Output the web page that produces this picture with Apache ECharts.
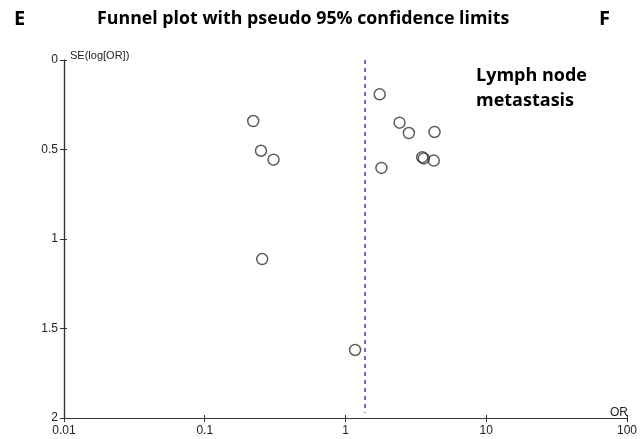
<!DOCTYPE html>
<html>
<head>
<meta charset="utf-8">
<script src="https://cdn.jsdelivr.net/npm/echarts@6/dist/echarts.min.js"></script>
<style>
  html, body { margin: 0; padding: 0; background: #fff; }
  #chart { width: 640px; height: 439px; }
</style>
</head>
<body>
<div id="chart"></div>
<script>
// Study odds ratios and standard errors of log(OR)
const studyOR = [1.75, 0.221, 0.251, 0.308, 2.42, 2.82, 4.29, 3.51, 3.60, 4.24, 1.80, 0.256, 1.17];
const studySE = [0.192, 0.341, 0.507, 0.557, 0.350, 0.408, 0.402, 0.543, 0.550, 0.562, 0.603, 1.112, 1.620];
// Pooled estimate (dashed reference line) and the SE range it spans
const pooledOR = 1.37;
const pooledSpan = [0, 1.97];
// Axis ticks
const orTicks = [0.01, 0.1, 1, 10, 100];
const seTicks = [0, 0.5, 1, 1.5, 2];

const points = studyOR.map((v, i) => [v, studySE[i]]);
const grid = { left: 64, right: 12, top: 60, bottom: 21 };
const axisColor = '#333';
const labelFont = { fontFamily: 'Liberation Sans', fontSize: 12, color: '#222' };

const xBase = {
  type: 'log', logBase: 10, min: orTicks[0], max: orTicks[orTicks.length - 1],
  position: 'bottom',
  splitLine: { show: false },
  axisLine: { onZero: false, lineStyle: { color: axisColor, width: 1.2 } }
};
const yBase = {
  type: 'value', inverse: true, min: seTicks[0], max: seTicks[seTicks.length - 1], interval: 0.5,
  position: 'left',
  splitLine: { show: false },
  axisLine: { show: true, onZero: false, lineStyle: { color: axisColor, width: 1.2 } }
};

const chart = echarts.init(document.getElementById('chart'), null, { renderer: 'canvas' });
chart.setOption({
  animation: false,
  backgroundColor: '#fff',
  grid: grid,
  title: [
    { text: 'E', left: 9, top: 4, textStyle: { fontFamily: 'Open Sans', fontWeight: 'bold', fontSize: 20, color: '#000' } },
    { text: 'Funnel plot with pseudo 95% confidence limits', left: 92, top: 5, textStyle: { fontFamily: 'Open Sans', fontWeight: 'bold', fontSize: 17.8, color: '#000' } },
    { text: 'F', left: 594, top: 4, textStyle: { fontFamily: 'Open Sans', fontWeight: 'bold', fontSize: 20, color: '#000' } },
    { text: 'Lymph node\nmetastasis', left: 471, top: 58, textStyle: { fontFamily: 'Open Sans', fontWeight: 'bold', fontSize: 18, lineHeight: 25, color: '#000' } },
    { text: 'SE(log[OR])', left: 65, top: 45, textStyle: { fontFamily: 'Liberation Sans', fontWeight: 'normal', fontSize: 11, color: '#222' } },
    { text: 'OR', left: 605, top: 402, textStyle: { fontFamily: 'Liberation Sans', fontWeight: 'normal', fontSize: 12, color: '#222' } }
  ],
  xAxis: [
    Object.assign({}, xBase, {
      axisTick: { show: true, length: 4, lineStyle: { color: axisColor } },
      axisLabel: Object.assign({}, labelFont, { margin: 7, formatter: v => String(v) })
    }),
    Object.assign({}, xBase, {
      axisTick: { show: true, inside: true, length: 3, lineStyle: { color: axisColor } },
      axisLabel: { show: false }
    })
  ],
  yAxis: [
    Object.assign({}, yBase, {
      axisTick: { show: true, length: 4, lineStyle: { color: axisColor } },
      axisLabel: Object.assign({}, labelFont, { margin: 6 })
    }),
    Object.assign({}, yBase, {
      axisTick: { show: true, inside: true, length: 3, lineStyle: { color: axisColor } },
      axisLabel: { show: false }
    })
  ],
  series: [{
    type: 'scatter',
    xAxisIndex: 0, yAxisIndex: 0,
    data: points,
    symbol: 'circle',
    symbolSize: 11,
    itemStyle: { color: 'rgba(255,255,255,0)', borderColor: '#333', borderWidth: 1.5 },
    markLine: {
      silent: true,
      symbol: 'none',
      label: { show: false },
      lineStyle: { color: '#3a3ae0', type: [4, 4], width: 1.5 },
      data: [[{ coord: [pooledOR, pooledSpan[0]] }, { coord: [pooledOR, pooledSpan[1]] }]]
    }
  }]
});
</script>
</body>
</html>
